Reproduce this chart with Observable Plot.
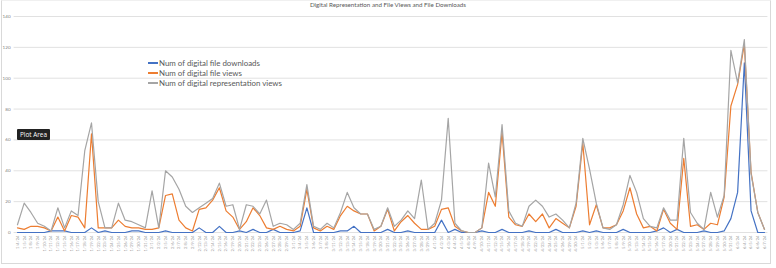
<!DOCTYPE html>
<html>
<head>
<meta charset="utf-8">
<script src="https://cdn.jsdelivr.net/npm/d3@7"></script>
<script src="https://cdn.jsdelivr.net/npm/@observablehq/plot@0.6"></script>
<style>
  html, body { margin: 0; padding: 0; background: #fff; }
  #wrap { position: relative; width: 776px; height: 268px; overflow: hidden; font-family: Lato, "Open Sans", sans-serif; }
  #frame { position: absolute; left: 1px; top: 0px; width: 770px; height: 264px; border: 1px solid #d9d9d9; box-sizing: border-box; border-top-color: #f0f0f0; }
  #chart { position: absolute; left: 0; top: 0; }
  #title { position: absolute; left: 0; width: 776px; top: 1px; text-align: center; font-size: 6.2px; color: #595959; }
  #legend { position: absolute; left: 148px; top: 58px; font-size: 7.9px; color: #595959; line-height: 10px; }
  #legend .row { display: flex; align-items: center; white-space: nowrap; }
  #legend .sw { width: 10px; height: 1.3px; margin-right: 1px; }
  #tip { position: absolute; left: 17px; top: 129px; width: 33px; height: 11px; background: #222; color: #fff; font-size: 6.4px; line-height: 11px; text-align: center; border-radius: 1px; font-family: "Open Sans", sans-serif; }
</style>
</head>
<body>
<div id="wrap">
  <div id="frame"></div>
  <div id="chart"></div>
  <div id="title"></div>
  <div id="legend"></div>
  <div id="tip">Plot Area</div>
</div>
<script>
const chartTitle = "Digital Representation and File Views and File Downloads";
const seriesNames = ["Num of digital file downloads", "Num of digital file views", "Num of digital representation views"];
const seriesColors = ["#4472C4", "#ED7D31", "#A5A5A5"];
const yTicks = [0, 20, 40, 60, 80, 100, 120, 140];

const labels = [
  "1/4/24","1/5/24","1/8/24","1/9/24","1/10/24","1/11/24","1/12/24","1/15/24","1/16/24","1/17/24","1/18/24","1/19/24","1/22/24","1/23/24","1/24/24","1/25/24","1/26/24","1/29/24","1/30/24","1/31/24",
  "2/1/24","2/2/24","2/5/24","2/6/24","2/7/24","2/8/24","2/9/24","2/12/24","2/13/24","2/14/24","2/15/24","2/16/24","2/19/24","2/20/24","2/21/24","2/22/24","2/23/24","2/26/24","2/27/24","2/28/24","2/29/24",
  "3/1/24","3/4/24","3/5/24","3/6/24","3/7/24","3/8/24","3/11/24","3/12/24","3/13/24","3/14/24","3/15/24","3/18/24","3/19/24","3/20/24","3/21/24","3/22/24","3/25/24","3/26/24","3/27/24","3/28/24","3/29/24",
  "4/1/24","4/2/24","4/3/24","4/4/24","4/5/24","4/8/24","4/9/24","4/10/24","4/11/24","4/12/24","4/15/24","4/16/24","4/17/24","4/18/24","4/19/24","4/22/24","4/23/24","4/24/24","4/25/24","4/26/24","4/29/24","4/30/24",
  "5/1/24","5/2/24","5/3/24","5/6/24","5/7/24","5/8/24","5/9/24","5/10/24","5/13/24","5/14/24","5/15/24","5/16/24","5/17/24","5/20/24","5/21/24","5/22/24","5/23/24","5/24/24","5/27/24","5/28/24","5/29/24","5/30/24","5/31/24",
  "6/3/24","6/4/24","6/5/24","6/6/24","6/7/24"
];

const downloads = [
  0,0,0,0,0,1,1,1,0,0, 0,3,0,1,0,0,0,1,1,0, 0,0,1,0,0,0,0,3,0,0,
  4,0,0,1,0,2,0,0,2,0, 0,0,1,16,0,0,0,0,1,1, 4,0,0,0,0,2,0,0,1,0,
  0,0,0,8,0,2,0,0,0,1, 0,0,2,0,0,0,1,0,0,0, 2,0,0,0,1,0,1,0,0,0,
  2,0,0,0,0,1,3,0,2,0, 0,0,1,0,0,1,9,26,110,14, 0,0
];

const fileViews = [
  3,2,4,4,3,1,10,1,11,10, 3,64,3,3,3,8,4,3,3,2, 2,3,24,25,8,3,1,15,16,21,
  29,14,10,2,7,16,11,3,2,4, 2,1,4,28,3,1,4,2,11,17, 14,12,12,1,4,15,1,7,11,6,
  2,2,4,15,16,4,1,0,0,3, 26,17,65,10,5,4,12,7,12,3, 9,6,3,17,58,5,18,3,3,5,
  14,29,12,3,4,1,15,6,2,48, 4,5,2,6,5,23,82,96,122,39, 13,2
];

const reprViews = [
  5,19,13,6,4,1,16,3,14,11, 53,71,20,3,3,19,8,7,5,3, 27,3,40,36,28,17,13,16,19,22,
  32,17,18,2,18,17,12,21,4,6, 5,2,6,31,4,2,6,3,13,26, 16,12,12,2,4,16,4,8,14,9,
  34,2,6,21,74,6,1,0,0,3, 45,23,70,14,6,4,17,21,17,10, 12,8,3,19,61,41,19,3,2,5,
  18,37,26,9,4,3,16,8,8,61, 13,6,2,26,10,24,118,97,125,38, 13,2
];

const seriesValues = [downloads, fileViews, reprViews];

document.getElementById("title").textContent = chartTitle;
const legend = document.getElementById("legend");
seriesNames.forEach((name, k) => {
  const row = document.createElement("div");
  row.className = "row";
  const sw = document.createElement("span");
  sw.className = "sw";
  sw.style.background = seriesColors[k];
  const tx = document.createElement("span");
  tx.textContent = name;
  row.appendChild(sw); row.appendChild(tx);
  legend.appendChild(row);
});

const plot = Plot.plot({
  width: 776,
  height: 268,
  marginLeft: 13.6,
  marginRight: 8.6,
  marginTop: 16,
  marginBottom: 36,
  style: { fontFamily: "Lato, 'Open Sans', sans-serif", background: "transparent", overflow: "visible" },
  x: { type: "point", domain: labels, padding: 0.5, label: null },
  y: { domain: [0, 140], label: null },
  marks: [
    Plot.gridY(yTicks, { stroke: "#d9d9d9", strokeOpacity: 1, strokeWidth: 0.8 }),
    Plot.axisY(yTicks, { tickSize: 0, tickPadding: 3.5, fontSize: 4.6, color: "#7f7f7f" }),
    Plot.axisX({ tickSize: 0, tickRotate: -90, tickPadding: 3, fontSize: 4.2, color: "#999999" }),
    ...seriesValues.map((vals, k) =>
      Plot.lineY(vals, { x: labels, y: vals, stroke: seriesColors[k], strokeWidth: 1.2 })
    )
  ]
});
document.getElementById("chart").appendChild(plot);
</script>
</body>
</html>
